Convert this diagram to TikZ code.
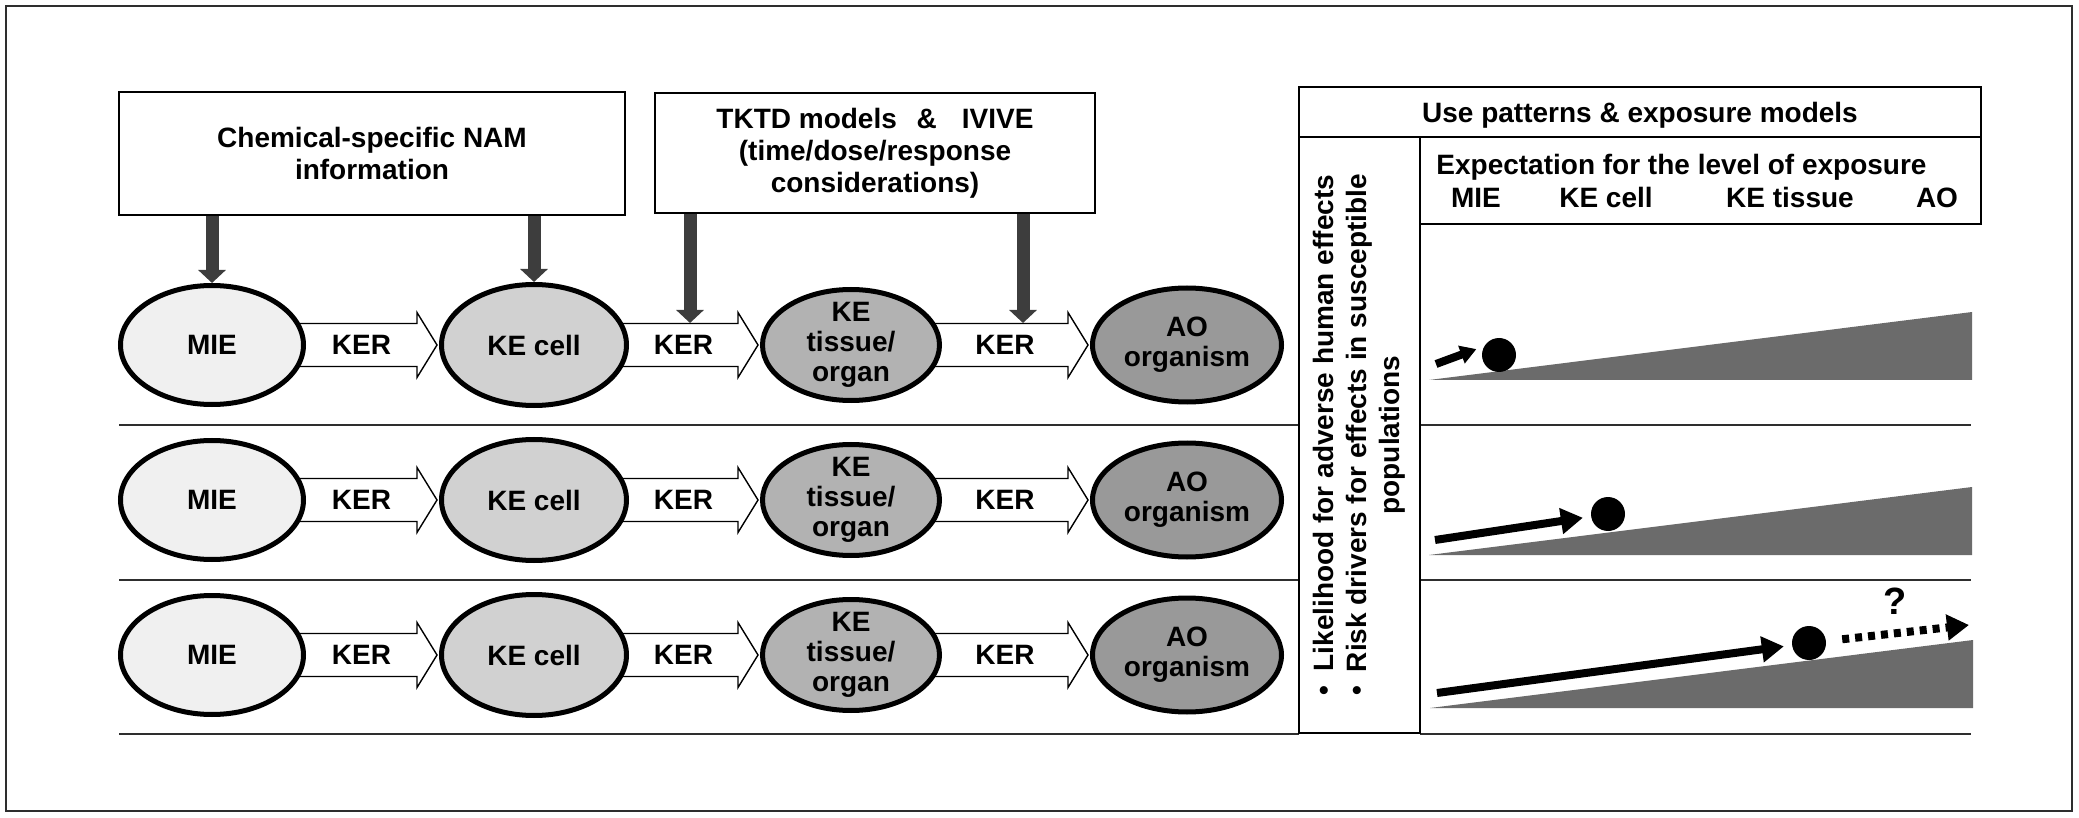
\documentclass[tikz,border=0pt]{standalone}
\usepackage{fontspec}
\setmainfont{Liberation Sans}
\usetikzlibrary{arrows.meta,shapes.geometric,calc,backgrounds}
\usetikzlibrary {positioning}
\definecolor {miegray}{gray}{0.94}
\definecolor {cellgray}{gray}{0.82}
\definecolor {tissuegray}{gray}{0.70}
\definecolor {aogray}{gray}{0.60}
\definecolor {arrowgray}{gray}{0.24}
\definecolor {wedgegray}{gray}{0.42}
\definecolor {rulegray}{gray}{0.18}
\newcommand{\kerarrow}[3]{%
\draw[kerbody] let \p1=(#1.center), \p2=(#2.west) in
(\x1,\y1+10.75pt) -- (\x2-11pt,\y1+10.75pt) -- (\x2-11pt,\y1+16.25pt)
-- (\x2-1pt,\y1) -- (\x2-11pt,\y1-16.25pt) -- (\x2-11pt,\y1-10.75pt)
-- (\x1,\y1-10.75pt)
node[kerlbl] (#3) at ($(#1.east)!0.5!(\x2-11pt,\y1)$) {KER};}

\begin{document}
\begin{tikzpicture}[x=0.5pt ,y=-0.5pt ,on grid ,
font=\bfseries\fontsize{14}{15}\selectfont ,
ke/.style ={ ellipse ,draw ,line width =2.5pt ,inner sep =0pt ,align =center},
mie/.style ={ ke ,fill =miegray ,minimum width =91.5pt ,minimum height =59.5pt},
kecell/.style ={ ke ,fill =cellgray ,minimum width =92.5pt ,minimum height =60.5pt},
ketissue/.style ={ ke ,fill =tissuegray ,minimum width =88.5pt ,minimum height =55.5pt ,inner ysep =-4pt},
ao/.style ={ ke ,fill =aogray ,minimum width =94.5pt ,minimum height =57pt},
kerbody/.style ={ draw ,fill =white ,line width =0.7pt},
kerlbl/.style ={ inner sep =0pt},
txt/.style ={ inner sep =0pt},
infobox/.style ={ draw ,line width =1pt ,align =center ,font =\bfseries\fontsize{14}{16}\selectfont},
feed/.style ={ draw =arrowgray ,line width =6.5pt ,-{Triangle[width =13.5pt ,length =6.5pt]}},
push/.style ={ line width =4pt ,-{Triangle[width =12.5pt ,length =11pt]} ,shorten >=4pt},
ball/.style ={ circle ,fill ,minimum size =17pt ,inner sep =0pt},
divider/.style ={ draw =rulegray ,line width =1pt}]
\useasboundingbox (0,0) rectangle (2079,818);
\draw[divider] (6,6) rectangle (2072,811);

\node[infobox ,minimum width =253pt ,minimum height =61.5pt] (chem) at (372,153.5) {Chemical-specific NAM\\information};
\node[infobox ,minimum width =220pt ,minimum height =60pt] (tktd) at (875,153) {TKTD models\hspace{0.7em}\&\hspace{0.9em}IVIVE\\(time/dose/response\\considerations)};

\node[mie] (mie1) at (212,345) {MIE};
\node[kecell ,right =161pt of mie1] (cell1) {KE cell};
\node[ketissue ,right =158.5pt of cell1] (tissue1) {KE\\tissue/\\organ};
\node[ao ,right =168pt of tissue1] (ao1) {AO\\organism};
\node[mie ,below =77.5pt of mie1] (mie2) {MIE};
\node[kecell ,right =161pt of mie2] (cell2) {KE cell};
\node[ketissue ,right =158.5pt of cell2] (tissue2) {KE\\tissue/\\organ};
\node[ao ,right =168pt of tissue2] (ao2) {AO\\organism};
\node[mie ,below =77.5pt of mie2] (mie3) {MIE};
\node[kecell ,right =161pt of mie3] (cell3) {KE cell};
\node[ketissue ,right =158.5pt of cell3] (tissue3) {KE\\tissue/\\organ};
\node[ao ,right =168pt of tissue3] (ao3) {AO\\organism};

\begin{scope}[on background layer]
\kerarrow{mie1}{cell1}{ker1a}
\kerarrow{cell1}{tissue1}{ker1b}
\kerarrow{tissue1}{ao1}{ker1c}
\kerarrow{mie2}{cell2}{ker2a}
\kerarrow{cell2}{tissue2}{ker2b}
\kerarrow{tissue2}{ao2}{ker2c}
\kerarrow{mie3}{cell3}{ker3a}
\kerarrow{cell3}{tissue3}{ker3b}
\kerarrow{tissue3}{ao3}{ker3c}
\end{scope}

\coordinate (hit2) at (690,323);
\coordinate (hit3) at (1023,323);
\draw[feed] (chem.south -| mie1) -- (mie1.north);
\draw[feed] (chem.south -| cell1) -- (cell1.north);
\draw[feed] (tktd.south -| hit2) -- (hit2);
\draw[feed] (tktd.south -| hit3) -- (hit3);

\draw[divider] (119,425) -- (1299,425) (1420,425) -- (1971,425);
\draw[divider] (119,580) -- (1299,580) (1420,580) -- (1971,580);
\draw[divider] (119,734) -- (1299,734) (1420,734) -- (1971,734);

\node[infobox ,line width =1.3pt ,minimum width =341pt ,minimum height =25pt ,text depth =0pt] (use) at (1640,112) {Use patterns \& exposure models};
\node[infobox ,rotate =90 ,minimum width =298pt ,minimum height =60.5pt ,font =\bfseries\fontsize{14}{16.5}\selectfont] (likely) at (1359.5,435) {\textbullet\hspace{0.5em}Likelihood for adverse human effects\\\textbullet\hspace{0.5em}Risk drivers for effects in susceptible\\populations};
\node[infobox ,minimum width =280.5pt ,minimum height =43.5pt] (expbox) at (1700.5,180.5) {};
\node[txt ,anchor =base west] (exptitle) at (1436,175) {Expectation for the level of exposure};
\node[txt ,anchor =base] (expmie) at (1476,208) {MIE};
\node[txt ,anchor =base] (expcell) at (1606,208) {KE cell};
\node[txt ,anchor =base] (exptissue) at (1790,208) {KE tissue};
\node[txt ,anchor =base] (expao) at (1937,208) {AO};

\fill[wedgegray] (1429,380) -- (1972,380) -- (1972,312) -- cycle;
\fill[wedgegray] (1429,555) -- (1972,555) -- (1972,487) -- cycle;
\fill[wedgegray] (1430,708) -- (1973,708) -- (1973,640) -- cycle;

\node[ball] (ball1) at (1499,355) {};
\node[ball] (ball2) at (1608,514) {};
\node[ball] (ball3) at (1809,643) {};
\coordinate (s1) at (1436,364);
\coordinate (s2) at (1435,540);
\coordinate (s3) at (1437,693);
\coordinate (q3) at (1969,625);
\draw[push ,-{Triangle[width =9pt ,length =8pt]}] (s1) -- (ball1.150);
\draw[push] (s2) -- (ball2);
\draw[push] (s3) -- (ball3);
\draw[push ,dash pattern =on 3.5pt off 3pt ,shorten <=8pt ,shorten >=0pt] (ball3) -- (q3);
\node[txt ,font =\bfseries\fontsize{19}{20}\selectfont] (qmark) at (1895,601) {?};
\end{tikzpicture}
\end{document}
